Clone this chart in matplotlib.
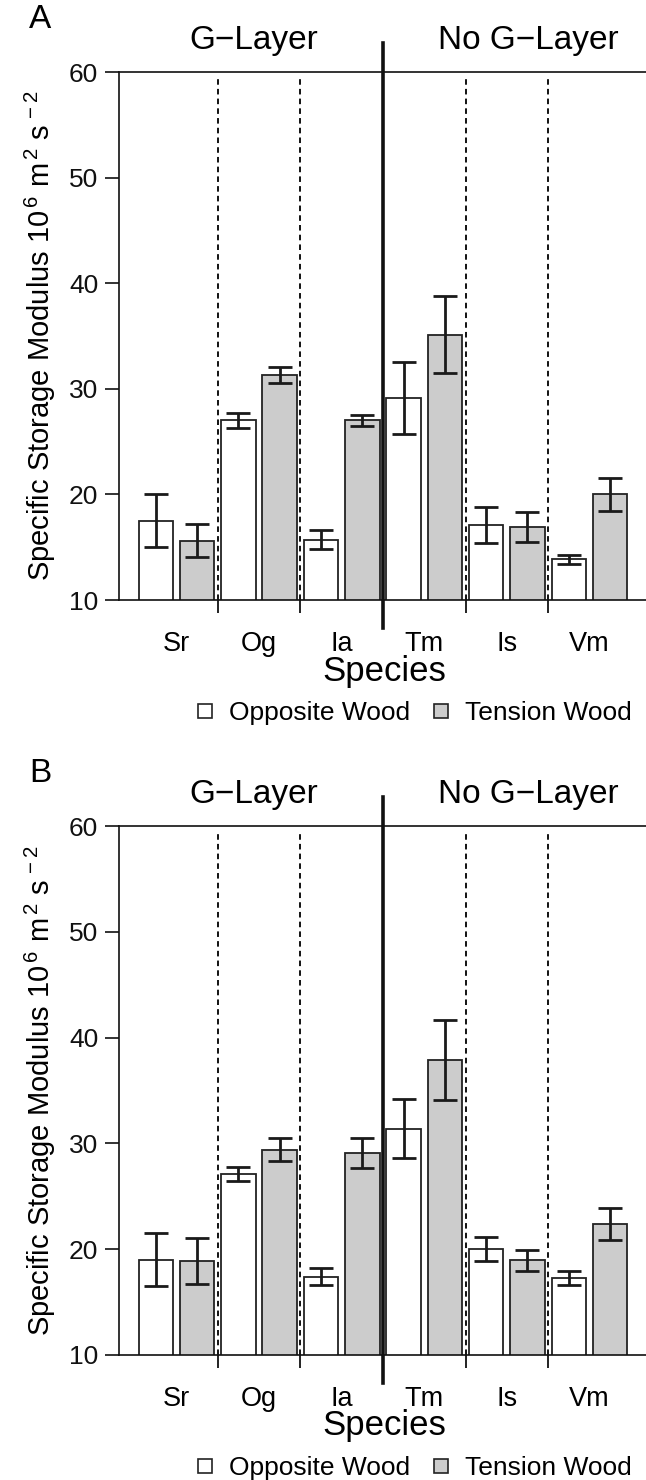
import matplotlib
matplotlib.use('Agg')
import matplotlib.pyplot as plt
from matplotlib.lines import Line2D
import numpy as np

plt.rcParams['font.family'] = ['Liberation Sans', 'DejaVu Sans']
plt.rcParams['mathtext.fontset'] = 'custom'
plt.rcParams['mathtext.rm'] = 'Liberation Sans'
plt.rcParams['mathtext.it'] = 'Liberation Sans'
plt.rcParams['lines.scale_dashes'] = False

species = ['Sr', 'Og', 'Ia', 'Tm', 'Is', 'Vm']
groups = ['G\u2212Layer', 'No G\u2212Layer']

# panel A
a_opposite = [17.5, 27.0, 15.7, 29.1, 17.1, 13.85]
a_opposite_err = [2.5, 0.75, 0.9, 3.4, 1.7, 0.42]
a_tension = [15.6, 31.3, 27.0, 35.1, 16.9, 20.0]
a_tension_err = [1.55, 0.75, 0.5, 3.65, 1.45, 1.55]

# panel B
b_opposite = [19.0, 27.1, 17.4, 31.4, 20.0, 17.3]
b_opposite_err = [2.5, 0.7, 0.8, 2.75, 1.15, 0.65]
b_tension = [18.9, 29.4, 29.1, 37.9, 18.95, 22.4]
b_tension_err = [2.15, 1.1, 1.4, 3.8, 1.0, 1.5]

W, H = 646, 1480
fig = plt.figure(figsize=(W / 100, H / 100), dpi=100)

gray = '#cccccc'
ylab = r'Specific Storage Modulus $\mathrm{10^{\,6}\ m^{\,2}\ s^{\,-2}}$'


def draw_panel(top_px, bottom_px, letter, opp, opp_err, ten, ten_err):
    left_px = 119
    ax = fig.add_axes([left_px / W, 1 - bottom_px / H, 1 - left_px / W, (bottom_px - top_px) / H])
    n = len(species)
    x_opp = np.arange(n) * 2 + 0.5
    x_ten = np.arange(n) * 2 + 1.5
    ax.bar(x_opp, opp, width=0.835, bottom=0, color='white', edgecolor='#222222', linewidth=1.3, zorder=2)
    ax.bar(x_ten, ten, width=0.835, bottom=0, color=gray, edgecolor='#222222', linewidth=1.3, zorder=2)
    ax.errorbar(x_opp, opp, yerr=opp_err, fmt='none', ecolor='#1a1a1a', elinewidth=2, capsize=8.5, capthick=2, zorder=3)
    ax.errorbar(x_ten, ten, yerr=ten_err, fmt='none', ecolor='#1a1a1a', elinewidth=2, capsize=8.5, capthick=2, zorder=3)

    ax.set_xlim(-0.39, 12.37)
    ax.set_ylim(10, 60)

    # separators between species
    for xs in [2, 4, 8, 10]:
        ax.plot([xs, xs], [10, 59.6], color='#111111', lw=1.4, ls=(0, (4, 3)), zorder=4)
    px_per_unit = (bottom_px - top_px) / 50
    ax.plot([6, 6], [60 + 29 / px_per_unit, 10 - 28 / px_per_unit], color='#111111', lw=2.6,
            clip_on=False, zorder=5)

    ax.spines['right'].set_visible(False)
    for s in ['left', 'top', 'bottom']:
        ax.spines[s].set_linewidth(1.2)
        ax.spines[s].set_color('#111111')

    ax.set_yticks([10, 20, 30, 40, 50, 60])
    ax.tick_params(axis='y', direction='out', length=10, width=1.2, labelsize=19, pad=5, colors='#111111')
    ax.set_xticks([2, 4, 8, 10])
    ax.set_xticklabels([])
    ax.tick_params(axis='x', which='major', direction='out', length=9.5, width=1.3, color='#111111')
    ax.set_xticks(np.arange(n) * 2 + 1.0, minor=True)
    ax.set_xticklabels(species, minor=True)
    ax.tick_params(axis='x', which='minor', length=0, labelsize=19.5, pad=22)

    ax.set_xlabel('Species', fontsize=25)
    ax.xaxis.set_label_coords((384 - left_px) / (W - left_px), -(671 - 600) / (bottom_px - top_px))
    ax.xaxis.label.set_va('center')

    ax.set_ylabel(ylab, fontsize=21)
    ax.yaxis.set_label_coords(-(119 - 40) / (W - left_px), 0.5)
    ax.yaxis.label.set_va('center')

    # group headers
    ax.text(2.88, 60 + 32 / px_per_unit, groups[0], fontsize=24, ha='center', va='center', clip_on=False)
    ax.text(9.52, 60 + 32 / px_per_unit, groups[1], fontsize=24, ha='center', va='center', clip_on=False)
    fig.text(40 / W, 1 - (top_px - 52) / H, letter, fontsize=24, ha='center', va='center')

    handles = [Line2D([], [], ls='none', marker='s', markersize=10, markerfacecolor='white',
                      markeredgecolor='#222222', markeredgewidth=1.2),
               Line2D([], [], ls='none', marker='s', markersize=10, markerfacecolor=gray,
                      markeredgecolor='#222222', markeredgewidth=1.2)]
    ax.legend(handles, ['Opposite Wood', 'Tension Wood'], ncol=2, frameon=False, fontsize=19,
              loc='center', bbox_to_anchor=(413 / W, 1 - (bottom_px + 113) / H),
              bbox_transform=fig.transFigure, handlelength=0.8, handletextpad=0.5, columnspacing=0.8,
              borderaxespad=0, borderpad=0)
    return ax


draw_panel(72, 600, 'A', a_opposite, a_opposite_err, a_tension, a_tension_err)
draw_panel(826, 1355, 'B', b_opposite, b_opposite_err, b_tension, b_tension_err)

fig.savefig('out.png', dpi=100)
